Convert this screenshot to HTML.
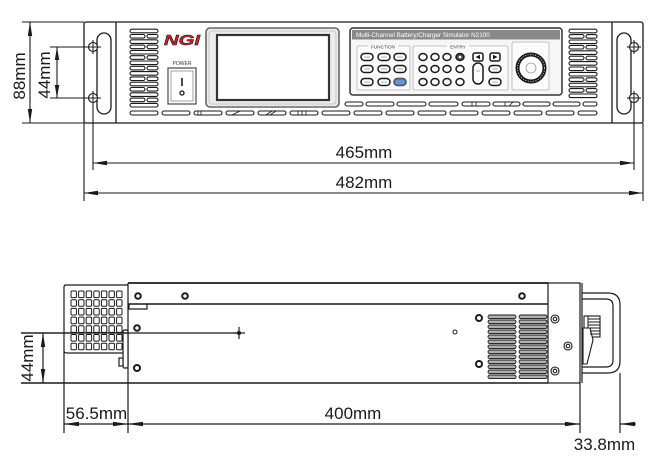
<!DOCTYPE html>
<html><head><meta charset="utf-8"><style>
html,body{margin:0;padding:0;background:#fff;}
svg{display:block;}
text{font-family:"Liberation Sans",sans-serif;}
</style></head><body>
<svg width="650" height="460" viewBox="0 0 650 460" xmlns="http://www.w3.org/2000/svg">
<rect width="650" height="460" fill="#fff"/>

<!-- ============ FRONT VIEW ============ -->
<g stroke="#1a1a1a" stroke-width="1.1" fill="none">
  <!-- 88mm dimension -->
  <line x1="22" y1="22" x2="84" y2="22"/>
  <line x1="22" y1="123" x2="84" y2="123"/>
  <line x1="30" y1="22" x2="30" y2="123"/>
  <!-- 44mm dimension -->
  <line x1="50" y1="47" x2="101" y2="47"/>
  <line x1="50" y1="98" x2="101" y2="98"/>
  <line x1="57" y1="47" x2="57" y2="98"/>
  <!-- extension lines -->
  <line x1="84" y1="123" x2="84" y2="201"/>
  <line x1="643" y1="123" x2="643" y2="201"/>
  <line x1="93" y1="40" x2="93" y2="54"/>
  <line x1="93" y1="91" x2="93" y2="170"/>
  <line x1="634" y1="40" x2="634" y2="54"/>
  <line x1="634" y1="91" x2="634" y2="170"/>
  <line x1="627" y1="47" x2="641" y2="47"/>
  <line x1="627" y1="98" x2="641" y2="98"/>
  <!-- 465 / 482 lines -->
  <line x1="93" y1="163" x2="634" y2="163"/>
  <line x1="84" y1="193" x2="643" y2="193"/>
</g>
<g fill="#1a1a1a">
  <polygon points="30,22 27.8,36 32.2,36"/>
  <polygon points="30,123 27.8,109 32.2,109"/>
  <polygon points="57,47 54.8,60 59.2,60"/>
  <polygon points="57,98 54.8,85 59.2,85"/>
  <polygon points="93,163 107,160.8 107,165.2"/>
  <polygon points="634,163 620,160.8 620,165.2"/>
  <polygon points="84,193 98,190.8 98,195.2"/>
  <polygon points="643,193 629,190.8 629,195.2"/>
</g>
<g font-size="17" fill="#1a1a1a" text-anchor="middle">
  <text transform="translate(25,76) rotate(-90)">88mm</text>
  <text transform="translate(50,75) rotate(-90)">44mm</text>
  <text x="364" y="158">465mm</text>
  <text x="364" y="188">482mm</text>
</g>

<!-- front frame -->
<g stroke="#1a1a1a" stroke-width="1.3" fill="none">
  <rect x="84" y="22" width="559" height="101" rx="2"/>
  <line x1="116" y1="22" x2="116" y2="123"/>
  <line x1="612" y1="22" x2="612" y2="123"/>
  <rect x="97" y="33" width="14" height="81" rx="7"/>
  <rect x="617" y="33" width="14" height="81" rx="7"/>
</g>
<g stroke="#1a1a1a" stroke-width="1.1" fill="#fff">
  <circle cx="93" cy="47" r="4.5"/><circle cx="93" cy="98" r="4.5"/>
  <circle cx="634" cy="47" r="4.5"/><circle cx="634" cy="98" r="4.5"/>
</g>
<g stroke="#1a1a1a" stroke-width="1">
  <line x1="86" y1="47" x2="101" y2="47"/><line x1="86" y1="98" x2="101" y2="98"/>
  <line x1="93" y1="41" x2="93" y2="53"/><line x1="93" y1="92" x2="93" y2="104"/>
  <line x1="627" y1="47" x2="641" y2="47"/><line x1="627" y1="98" x2="641" y2="98"/>
  <line x1="634" y1="41" x2="634" y2="53"/><line x1="634" y1="92" x2="634" y2="104"/>
</g>

<!-- vents -->
<g stroke="#1a1a1a" stroke-width="1.1" fill="#fff">
  <!-- left -->
  <rect x="130" y="29.2" width="28" height="3.6" rx="1.8"/>
  <rect x="130" y="34.5" width="15" height="3.6" rx="1.8"/><rect x="147" y="34.5" width="11" height="3.6" rx="1.8"/>
  <rect x="130" y="39.8" width="28" height="3.6" rx="1.8"/>
  <rect x="130" y="45.1" width="15" height="3.6" rx="1.8"/><rect x="147" y="45.1" width="11" height="3.6" rx="1.8"/>
  <rect x="130" y="50.4" width="28" height="3.6" rx="1.8"/>
  <rect x="130" y="55.7" width="15" height="3.6" rx="1.8"/><rect x="147" y="55.7" width="11" height="3.6" rx="1.8"/>
  <rect x="130" y="61.0" width="28" height="3.6" rx="1.8"/>
  <rect x="130" y="66.3" width="15" height="3.6" rx="1.8"/><rect x="147" y="66.3" width="11" height="3.6" rx="1.8"/>
  <rect x="130" y="71.6" width="28" height="3.6" rx="1.8"/>
  <rect x="130" y="76.9" width="15" height="3.6" rx="1.8"/><rect x="147" y="76.9" width="11" height="3.6" rx="1.8"/>
  <rect x="130" y="82.2" width="28" height="3.6" rx="1.8"/>
  <rect x="130" y="87.5" width="15" height="3.6" rx="1.8"/><rect x="147" y="87.5" width="11" height="3.6" rx="1.8"/>
  <rect x="130" y="92.8" width="28" height="3.6" rx="1.8"/>
  <rect x="130" y="98.1" width="15" height="3.6" rx="1.8"/><rect x="147" y="98.1" width="11" height="3.6" rx="1.8"/>
  <rect x="130" y="103.4" width="28" height="3.6" rx="1.8"/>
  <!-- right -->
  <rect x="569" y="29.2" width="28" height="3.6" rx="1.8"/>
  <rect x="569" y="34.6" width="15" height="3.6" rx="1.8"/><rect x="586" y="34.6" width="11" height="3.6" rx="1.8"/>
  <rect x="569" y="40.0" width="28" height="3.6" rx="1.8"/>
  <rect x="569" y="45.4" width="15" height="3.6" rx="1.8"/><rect x="586" y="45.4" width="11" height="3.6" rx="1.8"/>
  <rect x="569" y="50.8" width="28" height="3.6" rx="1.8"/>
  <rect x="569" y="56.2" width="15" height="3.6" rx="1.8"/><rect x="586" y="56.2" width="11" height="3.6" rx="1.8"/>
  <rect x="569" y="61.6" width="28" height="3.6" rx="1.8"/>
  <rect x="569" y="67.0" width="15" height="3.6" rx="1.8"/><rect x="586" y="67.0" width="11" height="3.6" rx="1.8"/>
  <rect x="569" y="72.4" width="28" height="3.6" rx="1.8"/>
  <rect x="569" y="77.8" width="15" height="3.6" rx="1.8"/><rect x="586" y="77.8" width="11" height="3.6" rx="1.8"/>
  <rect x="569" y="83.2" width="28" height="3.6" rx="1.8"/>
  <rect x="569" y="88.6" width="15" height="3.6" rx="1.8"/><rect x="586" y="88.6" width="11" height="3.6" rx="1.8"/>
  <rect x="569" y="94.0" width="28" height="3.6" rx="1.8"/>
  <!-- upper slot row -->
  <rect x="345" y="102" width="18" height="4" rx="2"/>
  <rect x="366" y="102" width="28" height="4" rx="2"/>
  <rect x="397" y="102" width="29" height="4" rx="2"/>
  <rect x="429" y="102" width="29" height="4" rx="2"/>
  <rect x="462" y="102" width="28" height="4" rx="2"/>
  <rect x="493" y="102" width="27" height="4" rx="2"/>
  <rect x="523" y="102" width="27" height="4" rx="2"/>
  <rect x="553" y="102" width="27" height="4" rx="2"/>
  <rect x="583" y="102" width="14" height="4" rx="2"/>
  <!-- bottom slot row -->
  <rect x="130" y="111" width="28" height="4" rx="2"/>
  <rect x="162" y="111" width="28" height="4" rx="2"/>
  <rect x="194" y="111" width="28" height="4" rx="2"/>
  <rect x="226" y="111" width="28" height="4" rx="2"/>
  <rect x="258" y="111" width="28" height="4" rx="2"/>
  <rect x="290" y="111" width="28" height="4" rx="2"/>
  <rect x="322" y="111" width="28" height="4" rx="2"/>
  <rect x="354" y="111" width="28" height="4" rx="2"/>
  <rect x="386" y="111" width="28" height="4" rx="2"/>
  <rect x="418" y="111" width="28" height="4" rx="2"/>
  <rect x="450" y="111" width="28" height="4" rx="2"/>
  <rect x="482" y="111" width="28" height="4" rx="2"/>
  <rect x="514" y="111" width="28" height="4" rx="2"/>
  <rect x="546" y="111" width="28" height="4" rx="2"/>
  <rect x="578" y="111" width="19" height="4" rx="2"/>
</g>
<g stroke="#1a1a1a" stroke-width="0.8">
  <line x1="198" y1="111" x2="198" y2="115"/><line x1="201" y1="111" x2="201" y2="115"/>
  <line x1="232" y1="115" x2="240" y2="111"/><line x1="266" y1="115" x2="272" y2="111"/><line x1="270" y1="115" x2="276" y2="111"/>
  <line x1="298" y1="111" x2="298" y2="115"/><line x1="302" y1="111" x2="302" y2="115"/><line x1="306" y1="111" x2="306" y2="115"/>
  <line x1="472" y1="102" x2="472" y2="106"/><line x1="476" y1="102" x2="476" y2="106"/>
  <line x1="505" y1="102" x2="505" y2="106"/><line x1="509" y1="106" x2="513" y2="102"/>
</g>

<!-- NGI logo -->
<text x="164" y="45" font-size="15" font-weight="bold" font-style="italic" fill="#d41f26" stroke="#111" stroke-width="0.5" textLength="36" lengthAdjust="spacingAndGlyphs">NGI</text>

<!-- power -->
<text x="182" y="65" font-size="5" fill="#333" text-anchor="middle">POWER</text>
<rect x="168" y="68" width="28" height="36" fill="#fff" stroke="#555" stroke-width="1.3"/>
<rect x="171" y="71" width="22" height="30" fill="#fff" stroke="#888" stroke-width="0.8"/>
<line x1="182" y1="78" x2="182" y2="86" stroke="#1a1a1a" stroke-width="1.6"/>
<circle cx="182" cy="93" r="2" fill="none" stroke="#1a1a1a" stroke-width="1.3"/>

<!-- display -->
<rect x="206" y="28" width="133" height="79" rx="4" fill="#ececec" stroke="#666" stroke-width="1.6"/>
<rect x="209" y="31" width="127" height="73" rx="3" fill="none" stroke="#bbb" stroke-width="0.8"/>
<rect x="217" y="35" width="112" height="65" fill="#fff" stroke="#333" stroke-width="2.2"/>

<!-- control panel -->
<rect x="350" y="28" width="212" height="67" rx="3" fill="#f6f6f6" stroke="#333" stroke-width="1.5"/>
<rect x="352" y="30" width="208" height="9.5" fill="#8a8a8a"/>
<text x="356" y="37.2" font-size="6.3" fill="#fff">Multi-Channel Battery/Charger Simulator N2100</text>
<g fill="#fbfbfb" stroke="#b5b5b5" stroke-width="0.8">
  <rect x="357" y="46" width="53" height="44" rx="1.5"/>
  <rect x="413" y="46" width="95" height="44" rx="1.5"/>
  <rect x="512" y="42" width="37" height="48" rx="1.5"/>
</g>
<rect x="368" y="44" width="30" height="5" fill="#fbfbfb"/>
<text x="383" y="48.6" font-size="4.6" fill="#333" text-anchor="middle">FUNCTION</text>
<rect x="447" y="44" width="22" height="5" fill="#fbfbfb"/>
<text x="458" y="48.6" font-size="4.6" fill="#333" text-anchor="middle">ENTRY</text>

<g stroke="#1a1a1a" stroke-width="1.5" fill="#fff">
  <rect x="361" y="53.5" width="12" height="7" rx="3.5"/>
  <rect x="378" y="53.5" width="12" height="7" rx="3.5"/>
  <rect x="394" y="53.5" width="12" height="7" rx="3.5"/>
  <rect x="361" y="65.5" width="12" height="7" rx="3.5"/>
  <rect x="378" y="65.5" width="12" height="7" rx="3.5"/>
  <rect x="394" y="65.5" width="12" height="7" rx="3.5"/>
  <rect x="361" y="78.5" width="12" height="7" rx="3.5"/>
  <rect x="378" y="78.5" width="12" height="7" rx="3.5"/>
  <rect x="394" y="78.5" width="12" height="7" rx="3.5" fill="#6f93c6" stroke="#3a4f70"/>
  <ellipse cx="423" cy="57" rx="4" ry="3.5"/><ellipse cx="435" cy="57" rx="4" ry="3.5"/><ellipse cx="447" cy="57" rx="4" ry="3.5"/><ellipse cx="460" cy="57" rx="4" ry="3.5" fill="#555"/>
  <ellipse cx="423" cy="69" rx="4" ry="3.5"/><ellipse cx="435" cy="69" rx="4" ry="3.5"/><ellipse cx="447" cy="69" rx="4" ry="3.5"/><ellipse cx="460" cy="69" rx="4" ry="3.5"/>
  <ellipse cx="423" cy="82" rx="4" ry="3.5"/><ellipse cx="435" cy="82" rx="4" ry="3.5"/><ellipse cx="447" cy="82" rx="4" ry="3.5"/><ellipse cx="460" cy="82" rx="4" ry="3.5"/>
  <rect x="473" y="53" width="10" height="8" rx="2"/>
  <rect x="490" y="53" width="10" height="8" rx="2"/>
  <rect x="473" y="63" width="10" height="21" rx="5"/>
  <rect x="489" y="65.5" width="12" height="7" rx="3.5"/>
  <rect x="489" y="78.5" width="12" height="7" rx="3.5"/>
</g>
<g fill="#1a1a1a">
  <polygon points="475.5,57 480,54.8 480,59.2"/>
  <polygon points="497.5,57 493,54.8 493,59.2"/>
  <circle cx="460" cy="57" r="1.3" fill="#fff"/>
</g>
<g stroke="#777" stroke-width="0.6">
  <line x1="364" y1="57" x2="370" y2="57"/><line x1="381" y1="57" x2="387" y2="57"/><line x1="397" y1="57" x2="403" y2="57"/>
  <line x1="364" y1="69" x2="370" y2="69"/><line x1="381" y1="69" x2="387" y2="69"/><line x1="397" y1="69" x2="403" y2="69"/>
  <line x1="364" y1="82" x2="370" y2="82"/><line x1="381" y1="82" x2="387" y2="82"/>
  <line x1="476" y1="71" x2="480" y2="71"/><line x1="492" y1="69" x2="498" y2="69"/><line x1="492" y1="82" x2="498" y2="82"/>
</g>
<!-- knob -->
<circle cx="531" cy="68" r="13.5" fill="#fff" stroke="#1a1a1a" stroke-width="4"/>
<circle cx="531" cy="68" r="13.5" fill="none" stroke="#fff" stroke-width="0.8" stroke-dasharray="1 1.6"/>
<circle cx="531" cy="68" r="5" fill="#fff" stroke="#999" stroke-width="0.8"/>

<!-- ============ SIDE VIEW ============ -->
<g stroke="#1a1a1a" stroke-width="1.2" fill="none">
  <!-- rear fan box -->
  <path d="M64,433 L64,287 Q64,285 66,285 L128,285"/>
  <path d="M64,351 Q64,353 67,353 L124,353"/>
  <line x1="128" y1="283" x2="128" y2="433"/>
  <!-- chassis -->
  <line x1="128" y1="283" x2="548" y2="283" stroke-width="1.7"/>
  <line x1="128" y1="304" x2="548" y2="304" stroke-width="1.4"/>
  <line x1="21" y1="383" x2="548" y2="383" stroke-width="1.4"/>
  <polyline points="129,304 129,309 147,309 147,304"/>
  <rect x="123" y="330" width="5" height="38" rx="1.5" fill="#fff"/>
  <rect x="119" y="358" width="4" height="8" fill="#fff"/>
  <!-- 44mm -->
  <line x1="21" y1="333" x2="239" y2="333"/>
  <line x1="43" y1="333" x2="43" y2="383"/>
  <line x1="239" y1="327" x2="239" y2="339"/>
  <line x1="233" y1="333" x2="245" y2="333"/>
  <!-- front bezel -->
  <rect x="548" y="283" width="32" height="100"/>
  <line x1="582" y1="283" x2="582" y2="383"/>
  <!-- handle -->
  <path d="M582,293 L608,293 Q620,293 620,305 L620,361 Q620,373 608,373 L582,373"/>
  <path d="M582,299 L606,299 Q613,299 613,306 L613,360 Q613,367 606,367 L582,367"/>
  <!-- ext lines -->
  <line x1="580" y1="383" x2="580" y2="433"/>
  <line x1="620" y1="373" x2="620" y2="433"/>
  <!-- dim line -->
  <line x1="64" y1="424" x2="580" y2="424"/>
  <line x1="620" y1="424" x2="636" y2="424"/>
</g>
<!-- fan grid -->
<g stroke="#1a1a1a" stroke-width="1" fill="#fff">
  <rect x="71" y="291" width="5.4" height="6.6" rx="1"/><rect x="78.6" y="291" width="5.4" height="6.6" rx="1"/><rect x="86.2" y="291" width="5.4" height="6.6" rx="1"/><rect x="93.8" y="291" width="5.4" height="6.6" rx="1"/><rect x="101.4" y="291" width="5.4" height="6.6" rx="1"/><rect x="109" y="291" width="5.4" height="6.6" rx="1"/><rect x="116.6" y="291" width="5.4" height="6.6" rx="1"/>
  <rect x="71" y="299.7" width="5.4" height="6.6" rx="1"/><rect x="78.6" y="299.7" width="5.4" height="6.6" rx="1"/><rect x="86.2" y="299.7" width="5.4" height="6.6" rx="1"/><rect x="93.8" y="299.7" width="5.4" height="6.6" rx="1"/><rect x="101.4" y="299.7" width="5.4" height="6.6" rx="1"/><rect x="109" y="299.7" width="5.4" height="6.6" rx="1"/><rect x="116.6" y="299.7" width="5.4" height="6.6" rx="1"/>
  <rect x="71" y="308.4" width="5.4" height="6.6" rx="1"/><rect x="78.6" y="308.4" width="5.4" height="6.6" rx="1"/><rect x="86.2" y="308.4" width="5.4" height="6.6" rx="1"/><rect x="93.8" y="308.4" width="5.4" height="6.6" rx="1"/><rect x="101.4" y="308.4" width="5.4" height="6.6" rx="1"/><rect x="109" y="308.4" width="5.4" height="6.6" rx="1"/><rect x="116.6" y="308.4" width="5.4" height="6.6" rx="1"/>
  <rect x="71" y="317.1" width="5.4" height="6.6" rx="1"/><rect x="78.6" y="317.1" width="5.4" height="6.6" rx="1"/><rect x="86.2" y="317.1" width="5.4" height="6.6" rx="1"/><rect x="93.8" y="317.1" width="5.4" height="6.6" rx="1"/><rect x="101.4" y="317.1" width="5.4" height="6.6" rx="1"/><rect x="109" y="317.1" width="5.4" height="6.6" rx="1"/><rect x="116.6" y="317.1" width="5.4" height="6.6" rx="1"/>
  <rect x="71" y="325.8" width="5.4" height="6.6" rx="1"/><rect x="78.6" y="325.8" width="5.4" height="6.6" rx="1"/><rect x="86.2" y="325.8" width="5.4" height="6.6" rx="1"/><rect x="93.8" y="325.8" width="5.4" height="6.6" rx="1"/><rect x="101.4" y="325.8" width="5.4" height="6.6" rx="1"/><rect x="109" y="325.8" width="5.4" height="6.6" rx="1"/><rect x="116.6" y="325.8" width="5.4" height="6.6" rx="1"/>
  <rect x="71" y="334.5" width="5.4" height="6.6" rx="1"/><rect x="78.6" y="334.5" width="5.4" height="6.6" rx="1"/><rect x="86.2" y="334.5" width="5.4" height="6.6" rx="1"/><rect x="93.8" y="334.5" width="5.4" height="6.6" rx="1"/><rect x="101.4" y="334.5" width="5.4" height="6.6" rx="1"/><rect x="109" y="334.5" width="5.4" height="6.6" rx="1"/><rect x="116.6" y="334.5" width="5.4" height="6.6" rx="1"/>
  <rect x="71" y="343.2" width="5.4" height="6.6" rx="1"/><rect x="78.6" y="343.2" width="5.4" height="6.6" rx="1"/><rect x="86.2" y="343.2" width="5.4" height="6.6" rx="1"/><rect x="93.8" y="343.2" width="5.4" height="6.6" rx="1"/><rect x="101.4" y="343.2" width="5.4" height="6.6" rx="1"/><rect x="109" y="343.2" width="5.4" height="6.6" rx="1"/><rect x="116.6" y="343.2" width="5.4" height="6.6" rx="1"/>
</g>
<line x1="21" y1="333" x2="128" y2="333" stroke="#1a1a1a" stroke-width="1.2"/>
<!-- screws -->
<g stroke="#1a1a1a" stroke-width="2" fill="#fff">
  <circle cx="138" cy="296" r="2.8"/><circle cx="185" cy="296" r="2.8"/>
  <circle cx="137" cy="328" r="2.8"/><circle cx="137" cy="368" r="3"/>
  <circle cx="522" cy="296" r="2.8"/><circle cx="479" cy="318" r="3"/><circle cx="479" cy="364" r="3"/>
</g>
<circle cx="455" cy="332" r="2" fill="#fff" stroke="#1a1a1a" stroke-width="1"/>
<circle cx="239" cy="333" r="2" fill="#1a1a1a"/>
<g stroke="#1a1a1a" stroke-width="1.1" fill="#fff">
  <circle cx="555" cy="319" r="4"/><circle cx="568" cy="346" r="4"/><circle cx="555" cy="371" r="4"/>
  <circle cx="555" cy="319" r="1.8"/><circle cx="568" cy="346" r="1.8"/><circle cx="555" cy="371" r="1.8"/>
</g>
<!-- side vents -->
<g stroke="#1a1a1a" stroke-width="0.9" fill="#b0b0b0">
  <rect x="488" y="315" width="28" height="3.6" rx="1.8"/><rect x="519" y="315" width="28" height="3.6" rx="1.8"/>
  <rect x="488" y="320" width="28" height="3.6" rx="1.8"/><rect x="519" y="320" width="28" height="3.6" rx="1.8"/>
  <rect x="488" y="325" width="28" height="3.6" rx="1.8"/><rect x="519" y="325" width="28" height="3.6" rx="1.8"/>
  <rect x="488" y="330" width="28" height="3.6" rx="1.8"/><rect x="519" y="330" width="28" height="3.6" rx="1.8"/>
  <rect x="488" y="335" width="28" height="3.6" rx="1.8"/><rect x="519" y="335" width="28" height="3.6" rx="1.8"/>
  <rect x="488" y="340" width="28" height="3.6" rx="1.8"/><rect x="519" y="340" width="28" height="3.6" rx="1.8"/>
  <rect x="488" y="345" width="28" height="3.6" rx="1.8"/><rect x="519" y="345" width="28" height="3.6" rx="1.8"/>
  <rect x="488" y="350" width="28" height="3.6" rx="1.8"/><rect x="519" y="350" width="28" height="3.6" rx="1.8"/>
  <rect x="488" y="355" width="28" height="3.6" rx="1.8"/><rect x="519" y="355" width="28" height="3.6" rx="1.8"/>
  <rect x="488" y="360" width="28" height="3.6" rx="1.8"/><rect x="519" y="360" width="28" height="3.6" rx="1.8"/>
  <rect x="488" y="365" width="28" height="3.6" rx="1.8"/><rect x="519" y="365" width="28" height="3.6" rx="1.8"/>
  <rect x="488" y="370" width="28" height="3.6" rx="1.8"/><rect x="519" y="370" width="28" height="3.6" rx="1.8"/>
  <rect x="488" y="375" width="28" height="3.6" rx="1.8"/><rect x="519" y="375" width="28" height="3.6" rx="1.8"/>
</g>
<!-- handle latch -->
<g stroke="#1a1a1a" stroke-width="1.1" fill="#fff">
  <rect x="584" y="316" width="16" height="21"/>
  <polygon points="583,328 590,328 593,340 587,364 583,364"/>
</g>
<g stroke="#1a1a1a" stroke-width="1">
  <line x1="588" y1="319" x2="600" y2="319"/><line x1="588" y1="322" x2="600" y2="322"/>
  <line x1="588" y1="325" x2="600" y2="325"/><line x1="588" y1="328" x2="600" y2="328"/>
  <line x1="590" y1="331" x2="600" y2="331"/><line x1="590" y1="334" x2="600" y2="334"/>
  <line x1="588" y1="316" x2="588" y2="328"/>
</g>
<!-- side arrows -->
<g fill="#1a1a1a">
  <polygon points="43,333 40.8,347 45.2,347"/>
  <polygon points="43,383 40.8,369 45.2,369"/>
  <polygon points="64,424 79,421.8 79,426.2"/>
  <polygon points="128,424 113,421.8 113,426.2"/>
  <polygon points="128,424 143,421.8 143,426.2"/>
  <polygon points="580,424 565,421.8 565,426.2"/>
  <polygon points="620,424 635,421.8 635,426.2"/>
</g>
<g font-size="17" fill="#1a1a1a" text-anchor="middle">
  <text transform="translate(33,358) rotate(-90)">44mm</text>
  <text x="96.5" y="419">56.5mm</text>
  <text x="353" y="419">400mm</text>
  <text x="604.5" y="450">33.8mm</text>
</g>
</svg>
</body></html>
